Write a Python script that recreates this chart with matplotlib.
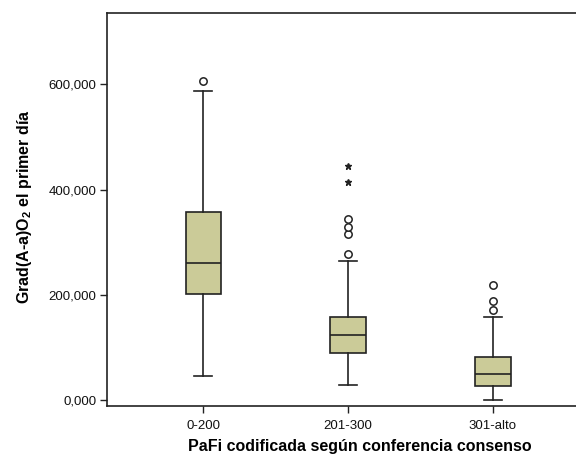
import matplotlib
matplotlib.use("Agg")
import matplotlib.pyplot as plt
import matplotlib.ticker as mticker

categories = ["0-200", "201-300", "301-alto"]
q1 = [201300, 89300, 27200]
med = [260200, 124800, 50700]
q3 = [357700, 159000, 82300]
whislo = [46200, 29800, 0]
whishi = [587500, 264000, 158200]
outliers = [[606500], [278600, 315300, 329200, 344400], [172300, 188600, 219700]]
extremes = [[], [414000, 445700], []]

plt.rcParams['font.family'] = ['Liberation Sans', 'DejaVu Sans']

fig = plt.figure(figsize=(5.76, 4.57), dpi=100)
ax = fig.add_axes([0.1863, 0.1116, 0.836, 0.8593])

positions = list(range(1, len(categories) + 1))
stats = []
for i in range(len(categories)):
    stats.append(dict(med=med[i], q1=q1[i], q3=q3[i], whislo=whislo[i],
                      whishi=whishi[i], fliers=outliers[i], label=categories[i]))

lc = '#222222'
ax.bxp(stats, positions=positions, widths=0.246, capwidths=0.123,
       patch_artist=True,
       boxprops=dict(facecolor='#CBCB98', edgecolor=lc, linewidth=1.2),
       medianprops=dict(color=lc, linewidth=1.2),
       whiskerprops=dict(color=lc, linewidth=1.2),
       capprops=dict(color=lc, linewidth=1.2),
       flierprops=dict(marker='o', markersize=5.3, markerfacecolor='white',
                       markeredgecolor=lc, markeredgewidth=1.1))
for p, ex in zip(positions, extremes):
    if ex:
        ax.plot([p] * len(ex), ex, linestyle='none', marker='*', markersize=5,
                color=lc)

def fmt(v, pos):
    return f"{int(round(v)):,}".replace(",000", "") + ",000" if v else "0,000"

ax.set_xlim(0.336, 3.664)
ax.set_ylim(-11000, 735000)
ax.set_yticks([0, 200000, 400000, 600000])
ax.yaxis.set_major_formatter(mticker.FuncFormatter(fmt))
ax.set_xticks(positions)
ax.set_xticklabels(categories)
ax.tick_params(axis='both', direction='out', length=5, width=1.0, color=lc,
               labelsize=9.5, labelcolor='#111111')
ax.tick_params(axis='y', pad=3)
ax.tick_params(axis='x', pad=5)
for s in ['left', 'bottom', 'top']:
    ax.spines[s].set_color(lc)
    ax.spines[s].set_linewidth(1.2)
ax.spines['right'].set_visible(False)

ax.set_xlabel("PaFi codificada según conferencia consenso", fontsize=11.5,
              fontweight='bold')
ax.set_ylabel("Grad(A-a)O$_\\mathregular{2}$ el primer día", fontsize=11.5,
              fontweight='bold')
ax.xaxis.set_label_coords(0.524, -0.085)
ax.yaxis.set_label_coords(-0.152, 0.509)

fig.savefig("out.png", dpi=100)
